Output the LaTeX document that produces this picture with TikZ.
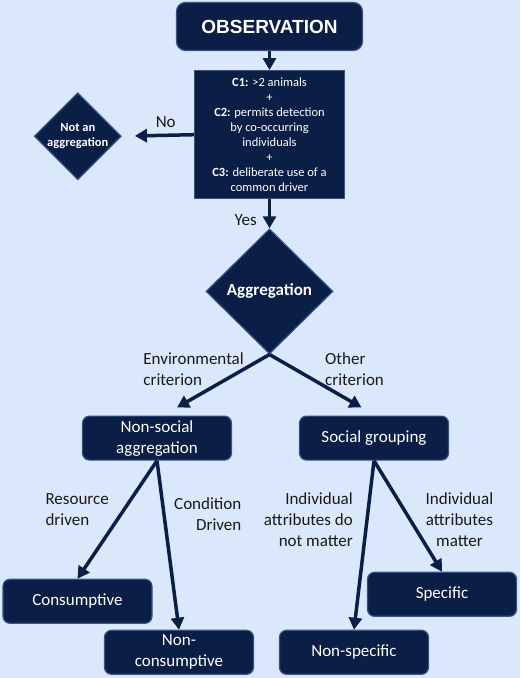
\documentclass[tikz,border=0pt]{standalone}
\usepackage{fontspec}
\setmainfont{Carlito}
\newfontfamily\obsfont{Liberation Sans}
\usetikzlibrary{shapes.geometric, arrows.meta, positioning}

\definecolor{bgblue}{RGB}{219,232,251}
\definecolor{navy}{RGB}{11,30,70}
\definecolor{navyline}{RGB}{52,84,135}

\begin{document}
\begin{tikzpicture}[
    mybox/.style={draw=navyline, line width=1.2pt, fill=navy, text=white, rounded corners=7pt, align=center,
        minimum width=149pt, minimum height=44pt, inner sep=2pt, font=\fontsize{17pt}{21pt}\selectfont},
    obsbox/.style={mybox, rounded corners=9pt, minimum width=186pt, minimum height=48pt,
        font=\obsfont\bfseries\fontsize{19pt}{23pt}\selectfont},
    critbox/.style={mybox, rounded corners=0pt, minimum width=150pt, minimum height=128pt,
        font=\fontsize{12.5pt}{15.1pt}\selectfont},
    mydiamond/.style={draw=navyline, line width=1.2pt, fill=navy, text=white, diamond, aspect=1, inner sep=0pt, align=center},
    mylabel/.style={inner sep=0pt, text=black!90, font=\fontsize{17pt}{21pt}\selectfont},
    myarrow/.style={-{Triangle[width=13pt, length=12pt]}, line width=3.5pt, draw=navy},
]

% Background
\fill[bgblue] (0,0) rectangle (520pt,-678pt);

% Nodes
\node[obsbox] (obs) at (269.5pt,-26.5pt) {OBSERVATION};
\node[critbox, below=19pt of obs] (crit) {\textbf{C1:} >2 animals\\+\\\textbf{C2:} permits detection\\by co-occurring\\individuals\\+\\\textbf{C3:} deliberate use of a\\common driver};
\node[mydiamond, minimum width=87pt, minimum height=87pt, font=\bfseries\fontsize{12.5pt}{15pt}\selectfont,
    left=72pt of crit, yshift=-1.5pt] (noagg) {Not an\\aggregation};
\node[mydiamond, minimum width=127pt, minimum height=125pt, font=\bfseries\fontsize{17pt}{21pt}\selectfont,
    below=29pt of crit] (agg) {Aggregation};

\node[mybox, below=61pt of agg, xshift=-112.5pt] (nonsoc) {Non-social\\aggregation};
\node[mybox, below=61pt of agg, xshift=104.5pt] (social) {Social grouping};

\node[mybox, below=118pt of nonsoc, xshift=-79.5pt] (cons) {Consumptive};
\node[mybox, below=169pt of nonsoc, xshift=22pt] (noncons) {Non-\\consumptive};
\node[mybox, below=111pt of social, xshift=68pt] (spec) {Specific};
\node[mybox, below=169pt of social, xshift=-20pt] (nonspec) {Non-specific};

% arrow ends above the second row
\coordinate[above=8pt of nonsoc.north, xshift=20pt] (envtip);
\coordinate[above=8pt of social.north, xshift=-12.5pt] (othertip);

% Arrows
\draw[myarrow] (obs) -- (crit);
\draw[myarrow, shorten >=13pt] (crit.west) -- (noagg.east);
\draw[myarrow] (crit) -- (agg);
\draw[myarrow] (agg.south) -- (envtip);
\draw[myarrow] (agg.south) -- (othertip);
\draw[myarrow] (nonsoc.south) -- (cons.north);
\draw[myarrow] (nonsoc.south) -- (noncons.north);
\draw[myarrow] (social.south) -- (nonspec.north);
\draw[myarrow] (social.south) -- (spec.north);

% Labels
\node[mylabel, left=18pt of crit.west, yshift=12.5pt] (l_no) {No};
\node[mylabel, left=12.5pt of crit.south, yshift=-21pt] (l_yes) {Yes};
\node[mylabel, align=left, left=25.5pt of agg.south, yshift=-14.5pt] (l_env) {Environmental\\criterion};
\node[mylabel, align=left, right=55.5pt of agg.south, yshift=-14.5pt] (l_other) {Other\\criterion};
\node[mylabel, align=left, left=48pt of nonsoc.south, yshift=-49pt] (l_res) {Resource\\driven};
\node[mylabel, align=right, right=17pt of nonsoc.south, yshift=-53pt] (l_cond) {Condition\\Driven};
\node[mylabel, align=right, left=21pt of social.south, yshift=-59pt] (l_nomatter) {Individual\\attributes do\\not matter};
\node[mylabel, align=center, right=51.5pt of social.south, yshift=-59pt] (l_matter) {Individual\\attributes\\matter};

\end{tikzpicture}
\end{document}
